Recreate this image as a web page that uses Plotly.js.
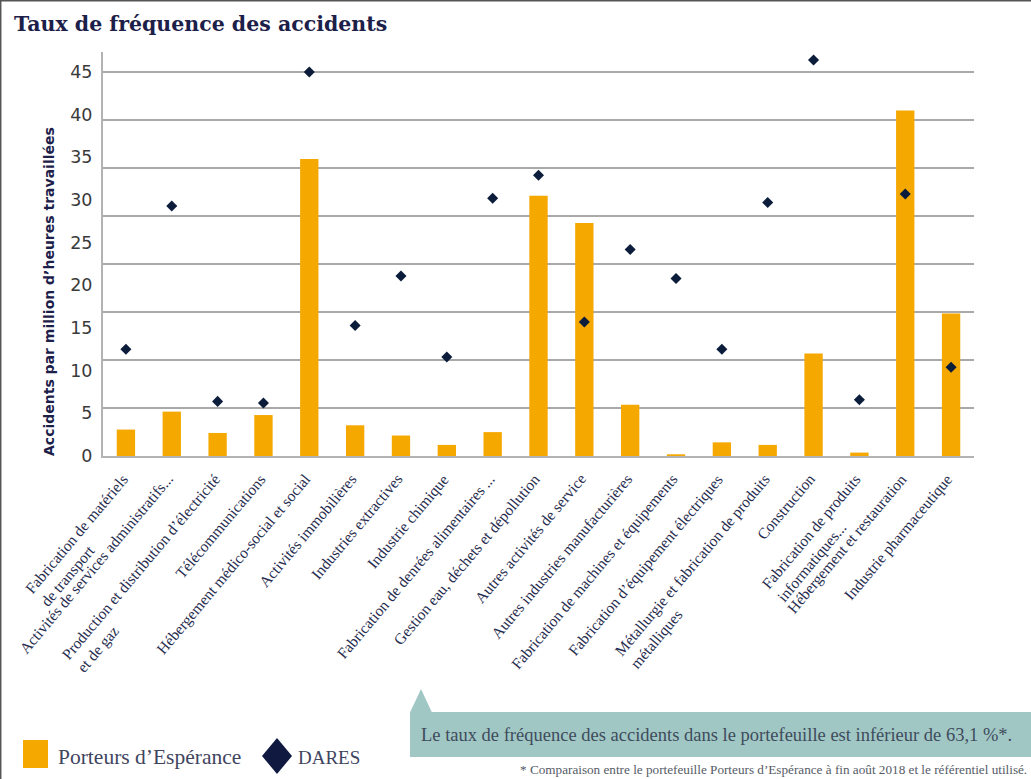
<!DOCTYPE html>
<html><head><meta charset="utf-8">
<script src="https://cdn.plot.ly/plotly-3.0.1.min.js"></script>
<style>html,body{margin:0;padding:0;background:#fff}#chart{width:1031px;height:779px}</style>
</head><body><div id="chart"></div>
<script>
// ---- data ----
const categories = [
  'Fabrication de matériels<br>de transport',
  'Activités de services administratifs...',
  'Production et distribution d’électricité<br>et de gaz',
  'Télécommunications',
  'Hébergement médico-social et social',
  'Activités immobilières',
  'Industries extractives',
  'Industrie chimique',
  'Fabrication de denrées alimentaires ...',
  'Gestion eau, déchets et dépollution',
  'Autres activités de service',
  'Autres industries manufacturières',
  'Fabrication de machines et équipements',
  'Fabrication d’équipement électriques',
  'Métallurgie et fabrication de produits<br>métalliques',
  'Construction',
  'Fabrication de produits<br>informatiques...',
  'Hébergement et restauration',
  'Industrie pharmaceutique'
];
const porteurs = [3.1, 5.2, 2.7, 4.8, 34.8, 3.6, 2.4, 1.3, 2.8, 30.5, 27.3, 6.0, 0.2, 1.6, 1.3, 12.0, 0.4, 40.5, 16.7];
const dares    = [12.5, 29.3, 6.4, 6.2, 45.0, 15.3, 21.1, 11.6, 30.2, 32.9, 15.7, 24.2, 20.8, 12.5, 29.7, 46.4, 6.6, 30.7, 10.4];
const yTickVals = [0, 5, 10, 15, 20, 25, 30, 35, 40, 45];
const yTickText = ['0', '5', '10', '15', '20', '25', '30', '35', '40', '45'];
const seriesNames = ['Porteurs d’Espérance', 'DARES'];
const titleText = 'Taux de fréquence des accidents';
const yTitleText = 'Accidents par million d’heures travaillées';
const calloutText = 'Le taux de fréquence des accidents dans le portefeuille est inférieur de 63,1 %*.';
const footnoteText = '* Comparaison entre le portefeuille Porteurs d’Espérance à fin août 2018 et le référentiel utilisé.';

// ---- layout helpers ----
const W = 1031, H = 779, M = {l: 103, r: 57, t: 52, b: 323};
const PW = W - M.l - M.r, PH = H - M.t - M.b;
const px = x => (x - M.l) / PW;
const py = y => (H - M.b - y) / PH;
const PX_PER_UNIT = 384 / 45;
const yMax = PH / PX_PER_UNIT;
const gridVals = [0,1,2,3,4,5,6,7,8].map(k => 45 * k / 8);

const ORANGE = '#F5A800', NAVY = '#0C1D3C', TEAL = '#A1C7C5';
const serif = 'Liberation Serif, Times New Roman, serif';

const traces = [
  {type: 'bar', x: categories, y: porteurs, name: seriesNames[0],
   marker: {color: ORANGE, line: {width: 0}}, showlegend: false, hoverinfo: 'y'},
  {type: 'scatter', mode: 'markers', x: categories, y: dares, name: seriesNames[1], yaxis: 'y2',
   marker: {symbol: 'diamond', size: 8.5, color: NAVY, line: {width: 0}},
   showlegend: false, hoverinfo: 'y'}
];

const LABEL_ANGLE = -50, LABEL_FS = 15.5, LINE_H = 1.3 * LABEL_FS;
const sinA = Math.sin(Math.abs(LABEL_ANGLE) * Math.PI / 180);
const annotations = categories.map(c => {
  const n = c.split('<br>').length;
  const hBox = n * LINE_H + 4;
  return {x: c, xref: 'x', y: 0, yref: 'paper', text: c, showarrow: false,
    textangle: LABEL_ANGLE, xanchor: 'right', yanchor: 'top', align: 'left',
    xshift: hBox * sinA - 11, yshift: -12,
    font: {family: serif, size: LABEL_FS, color: '#262C4E'}};
});
annotations.push(
  {xref: 'paper', yref: 'paper', x: px(49), y: py(292), text: yTitleText, textangle: -90,
   showarrow: false, xanchor: 'center', yanchor: 'middle',
   font: {family: 'DejaVu Sans, sans-serif', size: 14, weight: 700, color: '#1C2049'}},
  {xref: 'paper', yref: 'paper', x: px(419), y: py(735), text: calloutText, showarrow: false,
   xanchor: 'left', yanchor: 'middle', font: {family: serif, size: 18.5, color: '#3E4C5C'}},
  {xref: 'paper', yref: 'paper', x: px(1029), y: py(769), text: footnoteText, showarrow: false,
   xanchor: 'right', yanchor: 'middle', font: {family: serif, size: 13.2, color: '#555B66'}},
  {xref: 'paper', yref: 'paper', x: px(56), y: py(757), text: seriesNames[0], showarrow: false,
   xanchor: 'left', yanchor: 'middle', font: {family: serif, size: 21.5, color: '#3F4560'}},
  {xref: 'paper', yref: 'paper', x: px(296), y: py(757), text: seriesNames[1], showarrow: false,
   xanchor: 'left', yanchor: 'middle', font: {family: serif, size: 19, color: '#3F4560'}}
);

const shapes = [
  {type: 'line', xref: 'paper', yref: 'paper', x0: px(0), x1: px(W), y0: py(0.7), y1: py(0.7), line: {color: '#555', width: 1.5}},
  {type: 'line', xref: 'paper', yref: 'paper', x0: px(0.7), x1: px(0.7), y0: py(0), y1: py(H), line: {color: '#555', width: 1.5}},
  {type: 'rect', xref: 'paper', yref: 'paper', x0: px(410), x1: px(W), y0: py(757), y1: py(712), fillcolor: TEAL, line: {width: 0}},
  {type: 'path', xref: 'paper', yref: 'paper', fillcolor: TEAL, line: {width: 0},
   path: `M ${px(410)},${py(712.5)} L ${px(421)},${py(689)} L ${px(432)},${py(712.5)} Z`},
  {type: 'rect', xref: 'paper', yref: 'paper', x0: px(23), x1: px(48), y0: py(768), y1: py(740), fillcolor: ORANGE, line: {width: 0}},
  {type: 'path', xref: 'paper', yref: 'paper', fillcolor: '#101A40', line: {width: 0},
   path: `M ${px(277)},${py(738)} L ${px(292)},${py(756)} L ${px(277)},${py(774)} L ${px(262)},${py(756)} Z`}
];

const layout = {
  width: W, height: H, margin: M, paper_bgcolor: '#fff', plot_bgcolor: '#fff',
  title: {text: titleText, x: 14 / W, xanchor: 'left', xref: 'container', y: 1 - 24 / H, yref: 'container', yanchor: 'middle',
    font: {family: 'DejaVu Serif, serif', size: 20.5, weight: 700, color: '#1C2049'}},
  bargap: 0.6, showlegend: false,
  xaxis: {type: 'category', range: [-0.5, categories.length - 0.5], showticklabels: false, ticks: '',
    showgrid: false, showline: true, linecolor: '#B3B3B3', linewidth: 2, zeroline: false, fixedrange: true},
  yaxis: {range: [0, yMax], tickvals: yTickVals, ticktext: yTickText, ticks: '', showgrid: false,
    showline: true, linecolor: '#B3B3B3', linewidth: 2, zeroline: false, ticklabelstandoff: 5,
    tickfont: {family: 'DejaVu Sans, sans-serif', size: 17.5, color: '#3A3A3A'}},
  yaxis2: {range: [0, yMax], overlaying: 'y', side: 'left', tickvals: gridVals, showticklabels: false, ticks: '',
    showgrid: true, gridcolor: '#A9A9A9', gridwidth: 1.5, showline: false, zeroline: false},
  annotations, shapes
};

Plotly.newPlot('chart', traces, layout, {displayModeBar: false, staticPlot: true});
</script></body></html>
